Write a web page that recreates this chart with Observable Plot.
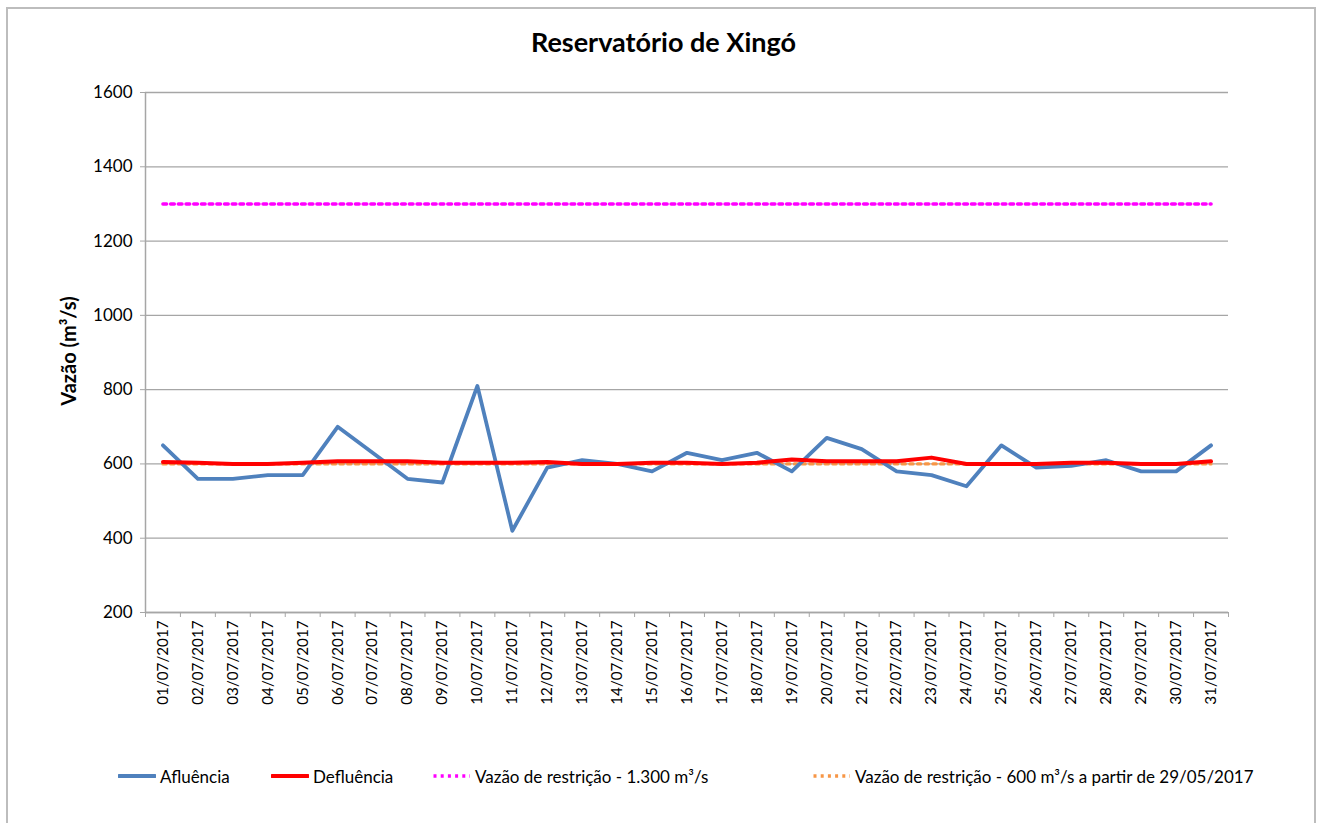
<!DOCTYPE html>
<html>
<head>
<meta charset="utf-8">
<script src="https://cdn.jsdelivr.net/npm/d3@7"></script>
<script src="https://cdn.jsdelivr.net/npm/@observablehq/plot@0.6"></script>
<style>
  html, body { margin: 0; padding: 0; background: #fff; }
  body { width: 1327px; height: 823px; overflow: hidden; position: relative; font-family: Lato, "Open Sans", sans-serif; }
  #frame { position: absolute; left: 6px; top: 7px; width: 1310px; height: 830px; border: 2px solid #bdbdbd; box-sizing: border-box; }
  #title { position: absolute; left: 0; top: 0; width: 1327px; height: 70px; text-align: center; line-height: 84px; font-weight: bold; font-size: 27px; color: #000; padding-left: 0; }
  #chart { position: absolute; left: 0; top: 70px; }
  #ylabel { position: absolute; left: 68px; top: 351px; transform: translate(-50%, -50%) rotate(-90deg); font-weight: bold; font-size: 20px; white-space: nowrap; color: #000; }
  .leg { position: absolute; top: 766px; height: 20px; display: flex; align-items: center; font-size: 17px; color: #000; white-space: nowrap; }
  .leg svg { margin-right: 4px; }
</style>
</head>
<body>
<div id="frame"></div>
<div id="title">Reservatório de Xingó</div>
<div id="chart"></div>
<div id="ylabel">Vazão (m³/s)</div>
<div id="legend"></div>
<script>
const dates = ["01/07/2017","02/07/2017","03/07/2017","04/07/2017","05/07/2017","06/07/2017","07/07/2017","08/07/2017","09/07/2017","10/07/2017","11/07/2017","12/07/2017","13/07/2017","14/07/2017","15/07/2017","16/07/2017","17/07/2017","18/07/2017","19/07/2017","20/07/2017","21/07/2017","22/07/2017","23/07/2017","24/07/2017","25/07/2017","26/07/2017","27/07/2017","28/07/2017","29/07/2017","30/07/2017","31/07/2017"];
const afluencia = [650,560,560,570,570,700,630,560,550,810,420,590,610,600,580,630,610,630,580,670,640,580,570,540,650,590,595,610,580,580,650];
const defluencia = [605,603,600,600,603,607,607,607,603,603,603,605,600,600,603,603,600,603,612,607,607,607,617,600,600,600,603,603,600,600,607];
const restricao1300 = dates.map(() => 1300);
const restricao600 = dates.map(() => 600);
const yTicks = [200,400,600,800,1000,1200,1400,1600];

const seriesNames = ["Afluência", "Defluência", "Vazão de restrição - 1.300 m³/s", "Vazão de restrição  - 600 m³/s a partir de 29/05/2017"];
const seriesColors = ["#4f81bd", "#ff0000", "#ff00ff", "#f79646"];

const rows = dates.map((d, i) => ({
  i: i + 1, date: d,
  afl: afluencia[i], def: defluencia[i], r1300: restricao1300[i], r600: restricao600[i]
}));
const idx = rows.map(r => r.i);
const boundaries = [0.5, ...idx.map(i => i + 0.5)];

const chart = Plot.plot({
  width: 1327,
  height: 640,
  marginLeft: 145,
  marginRight: 99,
  marginTop: 22,
  marginBottom: 98,
  style: { fontFamily: "Lato, 'Open Sans', sans-serif", color: "#000", background: "transparent" },
  x: { type: "linear", domain: [0.5, dates.length + 0.5] },
  y: { domain: [200, 1600] },
  marks: [
    Plot.gridY(yTicks, { stroke: "#a6a6a6", strokeOpacity: 1, strokeWidth: 1.3 }),
    Plot.ruleX([0.5], { y1: 200, y2: 1600, stroke: "#a6a6a6", strokeWidth: 1.5 }),
    Plot.ruleY([200], { stroke: "#a6a6a6", strokeWidth: 1.5 }),
    Plot.axisY({ ticks: yTicks, tickSize: 5, tickPadding: 8, stroke: "#a6a6a6", label: null, fontSize: 17, tickFormat: d => String(d) }),
    Plot.axisX({ ticks: boundaries, tickSize: 5, stroke: "#a6a6a6", tickFormat: () => "", label: null }),
    Plot.axisX({ ticks: idx, tickSize: 0, tickPadding: 8, tickRotate: -90, tickFormat: d => dates[d - 1], fontSize: 15.2, label: null }),
    Plot.line(rows, { x: "i", y: "r600", stroke: seriesColors[3], strokeWidth: 3.2, strokeDasharray: "3.2,4.5" }),
    Plot.line(rows, { x: "i", y: "r1300", stroke: seriesColors[2], strokeWidth: 3.6, strokeDasharray: "3.6,4.1" }),
    Plot.line(rows, { x: "i", y: "afl", stroke: seriesColors[0], strokeWidth: 3.8 }),
    Plot.line(rows, { x: "i", y: "def", stroke: seriesColors[1], strokeWidth: 4 })
  ]
});
document.getElementById("chart").appendChild(chart);

// Legend
const legendLeft = [118, 271, 432, 812];
const legend = document.getElementById("legend");
seriesNames.forEach((name, k) => {
  const div = document.createElement("div");
  div.className = "leg";
  div.style.left = legendLeft[k] + "px";
  const dotted = k >= 2;
  const sw = dotted
    ? `<svg width="38" height="10"><line x1="1.5" y1="5" x2="38" y2="5" stroke="${seriesColors[k]}" stroke-width="3.5" stroke-dasharray="3,4.2"/></svg>`
    : `<svg width="38" height="10"><line x1="1" y1="5" x2="37" y2="5" stroke="${seriesColors[k]}" stroke-width="4" stroke-linecap="round"/></svg>`;
  div.innerHTML = sw + "<span>" + name + "</span>";
  if (dotted) div.querySelector("svg").style.marginRight = "5px";
  legend.appendChild(div);
});
</script>
</body>
</html>
